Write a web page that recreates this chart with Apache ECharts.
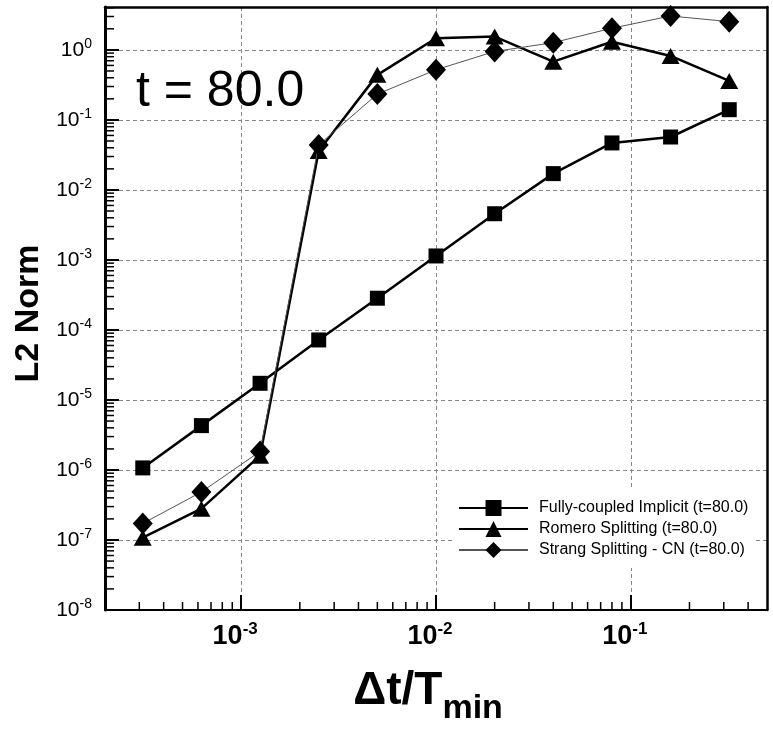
<!DOCTYPE html>
<html>
<head>
<meta charset="utf-8">
<script src="https://cdn.jsdelivr.net/npm/echarts@6/dist/echarts.min.js"></script>
<style>
  html, body { margin: 0; padding: 0; background: #fff; }
  #chart { width: 773px; height: 731px; }
</style>
</head>
<body>
<div id="chart"></div>
<script>
// dt / Tmin
var dtRatio = [3.125e-4, 6.25e-4, 1.25e-3, 2.5e-3, 5e-3, 1e-2, 2e-2, 4e-2, 8e-2, 0.16, 0.32]
// L2 norm of the error at t = 80.0
var fullyCoupled = [1.07e-6, 4.3e-6, 1.73e-5, 7.2e-5, 2.84e-4, 1.14e-3, 4.57e-3, 1.71e-2, 4.69e-2, 5.7e-2, 0.14]
var romero = [1.08e-7, 2.8e-7, 1.6e-6, 3.6e-2, 0.44, 1.47, 1.55, 0.68, 1.31, 0.82, 0.36]
var strang = [1.72e-7, 4.85e-7, 1.84e-6, 4.4e-2, 0.234, 0.52, 0.95, 1.27, 2.04, 3.05, 2.53]
var seriesNames = ['Fully-coupled Implicit (t=80.0)', 'Romero Splitting (t=80.0)', 'Strang Splitting - CN (t=80.0)']

// axis ranges and minor tick places (decade x 2..9)
var xRange = [2e-4, 0.5]
var yRange = [1e-8, 4.1]
var xDecades = [1e-4, 1e-3, 1e-2, 1e-1]
var yDecades = [1e-8, 1e-7, 1e-6, 1e-5, 1e-4, 1e-3, 1e-2, 1e-1, 1]
var minorSteps = [2, 3, 4, 5, 6, 7, 8, 9]

var FONT = 'Liberation Sans, Arial, sans-serif'

function pairs(xs, ys) {
  var out = []
  for (var i = 0; i < xs.length; i++) {
    out.push([xs[i], ys[i]])
  }
  return out
}

function minorTicks(decades, range) {
  var out = []
  decades.forEach(function (d) {
    minorSteps.forEach(function (m) {
      var v = d * m
      if (v > range[0] * 1.0001 && v < range[1] * 0.9999) out.push(v)
    })
  })
  return out
}

function powLabel(v) {
  var l = Math.log10(v)
  var e = Math.round(l)
  if (Math.abs(l - e) > 1e-6) return ''
  return '{b|10}{s|' + e + '}'
}

// short inward ticks at 2..9 of each decade
function tickSeries(data, dx, dy) {
  return {
    type: 'custom',
    silent: true,
    clip: false,
    z: 5,
    data: data,
    renderItem: function (params, api) {
      var p = api.coord([api.value(0), api.value(1)])
      return {
        type: 'line',
        shape: { x1: p[0], y1: p[1], x2: p[0] + dx, y2: p[1] + dy },
        style: { stroke: '#000', lineWidth: 1.5 }
      }
    }
  }
}

// plain frame edge (top / right)
function frameAxis(range, position) {
  return {
    type: 'log',
    logBase: 10,
    min: range[0],
    max: range[1],
    position: position,
    axisLine: { show: true, onZero: false, lineStyle: { color: '#000', width: 2.5 } },
    axisTick: { show: false },
    axisLabel: { show: false },
    splitLine: { show: false }
  }
}

var chart = echarts.init(document.getElementById('chart'))

var option = {
  animation: false,
  backgroundColor: '#fff',
  title: {
    text: 't = 80.0',
    left: 136,
    top: 67,
    padding: 0,
    textStyle: { fontFamily: FONT, fontSize: 50, fontWeight: 'normal', color: '#000' }
  },
  grid: {
    left: 105,
    right: 6,
    top: 7,
    bottom: 120
  },
  legend: {
    data: seriesNames,
    orient: 'vertical',
    left: 455,
    top: 488,
    padding: [10, 6, 8, 3],
    itemWidth: 69,
    itemHeight: 20,
    itemGap: 1,
    backgroundColor: '#fff',
    textStyle: { fontFamily: FONT, fontSize: 16, lineHeight: 20, color: '#000', padding: [0, 0, 0, 6] }
  },
  xAxis: [{
    type: 'log',
    logBase: 10,
    min: xRange[0],
    max: xRange[1],
    position: 'bottom',
    name: '{a|Δt/T}{m|min}',
    nameLocation: 'middle',
    nameGap: 58,
    nameTextStyle: {
      rich: {
        a: { fontFamily: FONT, fontSize: 46, fontWeight: 'bold', color: '#000', lineHeight: 46 },
        m: { fontFamily: FONT, fontSize: 34, fontWeight: 'bold', color: '#000', lineHeight: 34, padding: [36, 16, 0, 0] }
      }
    },
    axisLine: { show: true, onZero: false, lineStyle: { color: '#000', width: 2 } },
    axisTick: { show: true, inside: true, length: 15, lineStyle: { color: '#000', width: 2 } },
    axisLabel: {
      show: true,
      margin: 11,
      showMinLabel: false,
      showMaxLabel: false,
      formatter: powLabel,
      rich: {
        b: { fontFamily: FONT, fontSize: 27, fontWeight: 'bold', color: '#000', lineHeight: 32 },
        s: { fontFamily: FONT, fontSize: 17, fontWeight: 'bold', color: '#000', lineHeight: 17, verticalAlign: 'top', padding: [0, 12, 0, 0] }
      }
    },
    splitLine: {
      show: true,
      showMinLine: false,
      showMaxLine: false,
      lineStyle: { color: '#888', width: 1, type: [4, 3] }
    }
  }, frameAxis(xRange, 'top')],
  yAxis: [{
    type: 'log',
    logBase: 10,
    min: yRange[0],
    max: yRange[1],
    position: 'left',
    name: 'L2 Norm',
    nameLocation: 'middle',
    nameGap: 57,
    nameTextStyle: { fontFamily: FONT, fontSize: 34, fontWeight: 'bold', color: '#000', padding: [0, 10, 0, 0] },
    axisLine: { show: true, onZero: false, lineStyle: { color: '#000', width: 3 } },
    axisTick: { show: true, inside: true, length: 14, lineStyle: { color: '#000', width: 2 } },
    axisLabel: {
      show: true,
      margin: 13,
      showMinLabel: true,
      showMaxLabel: false,
      formatter: powLabel,
      rich: {
        b: { fontFamily: FONT, fontSize: 21, color: '#000', lineHeight: 26 },
        s: { fontFamily: FONT, fontSize: 14, color: '#000', lineHeight: 14, verticalAlign: 'top' }
      }
    },
    splitLine: {
      show: true,
      showMinLine: false,
      showMaxLine: false,
      lineStyle: { color: '#888', width: 1, type: [4, 3] }
    }
  }, frameAxis(yRange, 'right')],
  series: [
    {
      name: seriesNames[0],
      type: 'line',
      data: pairs(dtRatio, fullyCoupled),
      symbol: 'rect',
      symbolSize: 15,
      lineStyle: { color: '#000', width: 2.5 },
      itemStyle: { color: '#000' },
      z: 3
    },
    {
      name: seriesNames[1],
      type: 'line',
      data: pairs(dtRatio, romero),
      symbol: 'triangle',
      symbolSize: [18, 16],
      lineStyle: { color: '#000', width: 2.5 },
      itemStyle: { color: '#000' },
      z: 3
    },
    {
      name: seriesNames[2],
      type: 'line',
      data: pairs(dtRatio, strang),
      symbol: 'diamond',
      symbolSize: [20, 22],
      lineStyle: { color: '#555', width: 1 },
      itemStyle: { color: '#000' },
      z: 4
    },
    tickSeries(minorTicks(xDecades, xRange).map(function (v) { return [v, yRange[0]] }), 0, -8),
    tickSeries(minorTicks(yDecades, yRange).map(function (v) { return [xRange[0], v] }), 9, 0)
  ]
}

chart.setOption(option)
</script>
</body>
</html>
